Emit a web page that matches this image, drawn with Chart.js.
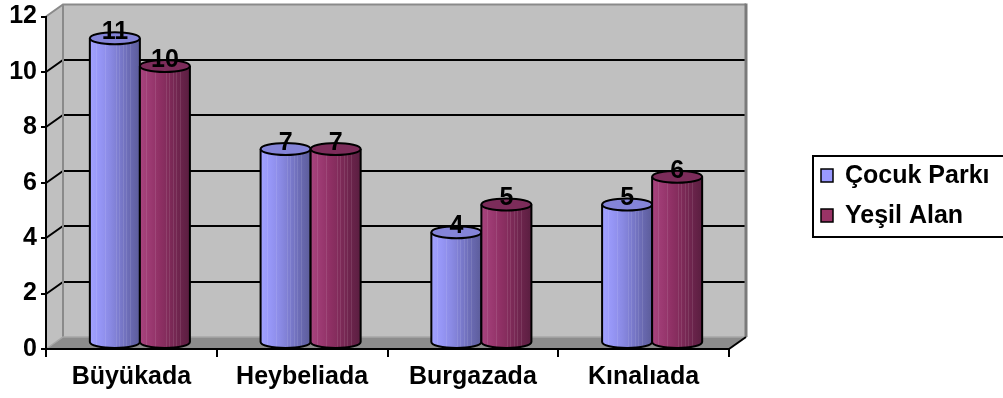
<!DOCTYPE html>
<html>
<head>
<meta charset="utf-8">
<script src="https://cdn.jsdelivr.net/npm/chart.js@4/dist/chart.umd.min.js"></script>
<style>
  html, body { margin: 0; padding: 0; background: #fff; overflow: hidden; }
  canvas { display: block; }
</style>
</head>
<body>
<canvas id="chart" width="1003" height="398"></canvas>
<script>
// Island names and park / green-area counts
const islands = ['Büyükada', 'Heybeliada', 'Burgazada', 'Kınalıada'];
const cocukParki = [11, 7, 4, 5];
const yesilAlan = [10, 7, 5, 6];
const seriesNames = ['Çocuk Parkı', 'Yeşil Alan'];
const yMin = 0, yMax = 12, yStep = 2;

const FONT = '"Liberation Sans", Arial, Helvetica, sans-serif';
const DX = 17, DY = -12;          // depth of the 3D box
const RY = 6;                     // vertical radius of cylinder caps

// Shading for each series: [left, ..., right] body stops and cap colour
const shades = [
  { body: ['#a2a2ff', '#9696f6', '#8a8ae4', '#7a7acc', '#6a6ab2', '#5c5c9a'], cap: '#8484d8', key: '#9999ff' },
  { body: ['#a8447e', '#9c3a72', '#8e3064', '#7e2a58', '#6c244c', '#5a1e40'], cap: '#7c2c5a', key: '#993366' }
];

function poly(ctx, pts) {
  ctx.beginPath();
  ctx.moveTo(pts[0][0], pts[0][1]);
  for (let i = 1; i < pts.length; i++) ctx.lineTo(pts[i][0], pts[i][1]);
  ctx.closePath();
}
function path(ctx, pts) {
  ctx.beginPath();
  ctx.moveTo(pts[0][0], pts[0][1]);
  for (let i = 1; i < pts.length; i++) ctx.lineTo(pts[i][0], pts[i][1]);
}

// Walls, floor and wall grid lines behind everything
const boxPlugin = {
  id: 'box3d',
  beforeDraw(chart) {
    const ctx = chart.ctx, a = chart.chartArea, ys = chart.scales.y;
    const L = a.left, R = a.right, T = a.top, B = a.bottom;
    ctx.save();
    ctx.fillStyle = '#fff';
    ctx.fillRect(0, 0, chart.width, chart.height);

    // side wall + back wall
    ctx.fillStyle = '#c0c0c0';
    poly(ctx, [[L, T], [L + DX, T + DY], [L + DX, B + DY], [L, B]]);
    ctx.fill();
    ctx.fillRect(L + DX, T + DY, R - L, B - T);

    // floor
    ctx.fillStyle = '#8c8c8c';
    poly(ctx, [[L, B], [R, B], [R + DX, B + DY], [L + DX, B + DY]]);
    ctx.fill();

    // grid lines across side and back wall
    ctx.strokeStyle = '#000';
    ctx.lineWidth = 2;
    ys.ticks.forEach(t => {
      if (t.value <= yMin || t.value >= yMax) return;
      const y = Math.round(ys.getPixelForValue(t.value));
      path(ctx, [[L, y], [L + DX, y + DY], [R + DX, y + DY]]);
      ctx.stroke();
    });

    // wall edges
    ctx.strokeStyle = '#8a8a8a';
    ctx.lineWidth = 2;
    path(ctx, [[L, T], [L + DX, T + DY], [R + DX, T + DY]]);
    ctx.stroke();
    path(ctx, [[L + DX, T + DY], [L + DX, B + DY]]);
    ctx.stroke();
    ctx.strokeStyle = '#7a7a7a';
    ctx.lineWidth = 3;
    path(ctx, [[R + DX, T + DY - 1], [R + DX, B + DY]]);
    ctx.stroke();

    // floor back edges
    ctx.strokeStyle = '#a6a6a6';
    ctx.lineWidth = 1.5;
    path(ctx, [[L, B], [L + DX, B + DY], [R + DX, B + DY]]);
    ctx.stroke();

    // floor right edge
    ctx.strokeStyle = '#000';
    ctx.lineWidth = 2;
    path(ctx, [[R, B], [R + DX, B + DY]]);
    ctx.stroke();
    ctx.restore();
  },

  // cylinders and their value labels
  afterDatasetsDraw(chart) {
    const ctx = chart.ctx;
    ctx.save();
    const n = chart.data.labels.length;
    for (let j = 0; j < n; j++) {
      chart.data.datasets.forEach((ds, i) => {
        const bar = chart.getDatasetMeta(i).data[j];
        const sh = shades[i];
        const rx = bar.width / 2;
        const cx = bar.x + DX / 2;
        const ty = bar.y + DY / 2;
        const by = bar.base + DY / 2;

        const g = ctx.createLinearGradient(cx - rx, 0, cx + rx, 0);
        sh.body.forEach((c, k) => g.addColorStop(k / (sh.body.length - 1), c));

        ctx.beginPath();
        ctx.moveTo(cx - rx, ty);
        ctx.lineTo(cx - rx, by);
        ctx.ellipse(cx, by, rx, RY, 0, Math.PI, 0, true);
        ctx.lineTo(cx + rx, ty);
        ctx.ellipse(cx, ty, rx, RY, 0, 0, Math.PI, false);
        ctx.closePath();
        ctx.fillStyle = g;
        ctx.fill();

        // faint vertical banding on the body
        ctx.save();
        ctx.clip();
        ctx.strokeStyle = 'rgba(255,255,255,0.10)';
        ctx.lineWidth = 1;
        [0.12, 0.30, 0.52, 0.58, 0.66, 0.72, 0.80].forEach(f => {
          const x = Math.round(cx - rx + f * 2 * rx) + 0.5;
          ctx.beginPath();
          ctx.moveTo(x, ty);
          ctx.lineTo(x, by + RY);
          ctx.stroke();
        });
        ctx.restore();

        ctx.strokeStyle = '#000';
        ctx.lineWidth = 2;
        ctx.beginPath();
        ctx.moveTo(cx - rx, ty);
        ctx.lineTo(cx - rx, by);
        ctx.ellipse(cx, by, rx, RY, 0, Math.PI, 0, true);
        ctx.lineTo(cx + rx, ty);
        ctx.stroke();

        ctx.beginPath();
        ctx.ellipse(cx, ty, rx, RY, 0, 0, Math.PI * 2);
        ctx.fillStyle = sh.cap;
        ctx.fill();
        ctx.stroke();
      });
    }

    // value labels
    ctx.fillStyle = '#000';
    ctx.font = 'bold 25px ' + FONT;
    ctx.textAlign = 'center';
    ctx.textBaseline = 'middle';
    chart.data.datasets.forEach((ds, i) => {
      chart.getDatasetMeta(i).data.forEach((bar, j) => {
        ctx.fillText(String(ds.data[j]), bar.x + DX / 2, bar.y + DY / 2 - 6);
      });
    });
    ctx.restore();
  },

  // legend box
  afterDraw(chart) {
    const ctx = chart.ctx;
    ctx.save();
    ctx.strokeStyle = '#000';
    ctx.lineWidth = 2;
    ctx.strokeRect(813, 156, 200, 81);
    ctx.font = 'bold 25px ' + FONT;
    ctx.textAlign = 'left';
    ctx.textBaseline = 'middle';
    chart.data.datasets.forEach((ds, i) => {
      const y = 175 + i * 40;
      ctx.fillStyle = shades[i].key;
      ctx.fillRect(821, y - 6, 12, 13);
      ctx.lineWidth = 1.5;
      ctx.strokeRect(821, y - 6, 12, 13);
      ctx.fillStyle = '#000';
      ctx.fillText(ds.label, 845, y + 1);
    });
    ctx.restore();
  }
};

new Chart(document.getElementById('chart'), {
  type: 'bar',
  data: {
    labels: islands,
    datasets: [
      { label: seriesNames[0], data: cocukParki, backgroundColor: 'rgba(0,0,0,0)', borderWidth: 0 },
      { label: seriesNames[1], data: yesilAlan, backgroundColor: 'rgba(0,0,0,0)', borderWidth: 0 }
    ]
  },
  options: {
    responsive: false,
    animation: false,
    events: [],
    layout: { padding: { top: 14, right: 274, left: 0, bottom: 0 } },
    categoryPercentage: 0.586,
    barPercentage: 1,
    plugins: { legend: { display: false }, tooltip: { enabled: false } },
    scales: {
      x: {
        offset: true,
        grid: { offset: true, drawOnChartArea: false, color: '#000', lineWidth: 2, tickLength: 8 },
        border: { color: '#000', width: 2 },
        ticks: { color: '#000', padding: 8, font: { family: FONT, size: 25, weight: 'bold', lineHeight: 1 } },
        afterFit(s) { s.height = 49; }
      },
      y: {
        min: yMin, max: yMax,
        grid: { drawOnChartArea: false, color: '#000', lineWidth: 2, tickLength: 5 },
        border: { color: '#000', width: 2 },
        ticks: { stepSize: yStep, color: '#000', padding: 4, font: { family: FONT, size: 25, weight: 'bold', lineHeight: 1 } },
        afterFit(s) { s.width = 46; }
      }
    }
  },
  plugins: [boxPlugin]
});
</script>
</body>
</html>
